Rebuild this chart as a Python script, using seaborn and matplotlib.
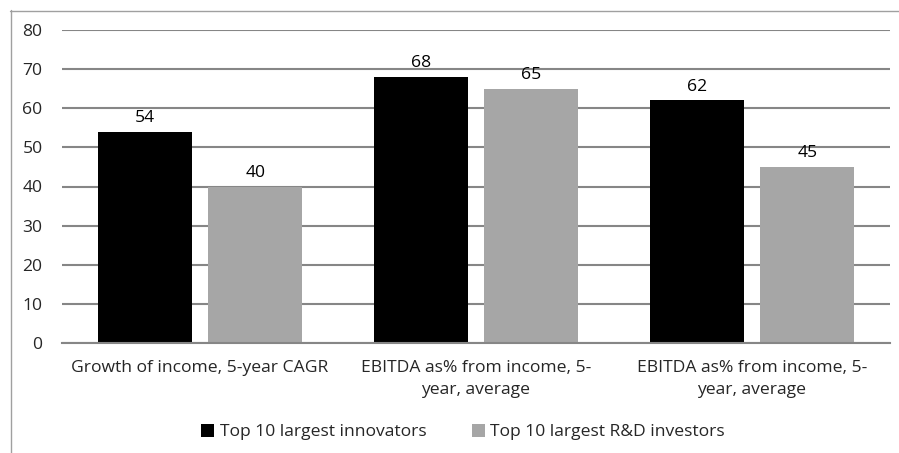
import pandas as pd
import matplotlib.pyplot as plt
import seaborn as sns
from matplotlib.lines import Line2D

# Data
categories = [
    "Growth of income, 5-year CAGR",
    "EBITDA as% from income, 5-\nyear, average",
    "EBITDA as% from income, 5-\nyear, average",
]
series_names = ["Top 10 largest innovators", "Top 10 largest R&D investors"]
innovators = [54, 68, 62]
rd_investors = [40, 65, 45]
colors = ["#000000", "#a6a6a6"]

# Long-form table for seaborn (integer group ids since two labels repeat)
df = pd.DataFrame({
    "group": list(range(len(categories))) * 2,
    "series": [series_names[0]] * 3 + [series_names[1]] * 3,
    "value": innovators + rd_investors,
})

sns.set_style("white")
plt.rcParams["font.family"] = ["Open Sans", "DejaVu Sans"]
fs = 12.6

fig = plt.figure(figsize=(8.99, 4.53), dpi=100)
ax = fig.add_axes([62 / 899, 1 - 343 / 453, (890 - 62) / 899, (343 - 30) / 453])

sns.barplot(data=df, x="group", y="value", hue="series", palette=colors,
            width=0.8, gap=0.15, saturation=1, linewidth=0, ax=ax, legend=True)

for container in ax.containers:
    ax.bar_label(container, fmt="%d", padding=4, fontsize=fs, color="#000000")

ax.set_ylim(0, 80)
ax.set_yticks(range(0, 81, 10))
ax.set_xlim(-0.5, 2.5)
ax.set_xticks(range(len(categories)))
ax.set_xticklabels(categories, fontsize=fs, linespacing=1.55, va="top")
ax.tick_params(axis="y", labelsize=fs, length=0, pad=14)
ax.tick_params(axis="x", length=0, pad=12)
ax.set_xlabel("")
ax.set_ylabel("")
ax.yaxis.grid(True, color="#868686", linewidth=1.5)
ax.set_axisbelow(True)
for side in ["left", "right", "top"]:
    ax.spines[side].set_visible(False)
ax.spines["bottom"].set_color("#868686")
ax.spines["bottom"].set_linewidth(1.5)

handles, labels = ax.get_legend_handles_labels()
ax.legend(handles, labels, loc="center", bbox_to_anchor=(463 / 899, 1 - 432 / 453),
          bbox_transform=fig.transFigure, ncol=2, frameon=False, fontsize=fs,
          handlelength=0.75, handleheight=0.75, handletextpad=0.3, columnspacing=2.6)

# outer chart border (left and top visible)
fig.add_artist(Line2D([10.5 / 899, 10.5 / 899], [0, 1 - 10 / 453],
                      transform=fig.transFigure, color="#a0a0a0", linewidth=1))
fig.add_artist(Line2D([10 / 899, 1], [1 - 10.5 / 453, 1 - 10.5 / 453],
                      transform=fig.transFigure, color="#a0a0a0", linewidth=1))

fig.savefig("out.png", dpi=100)
